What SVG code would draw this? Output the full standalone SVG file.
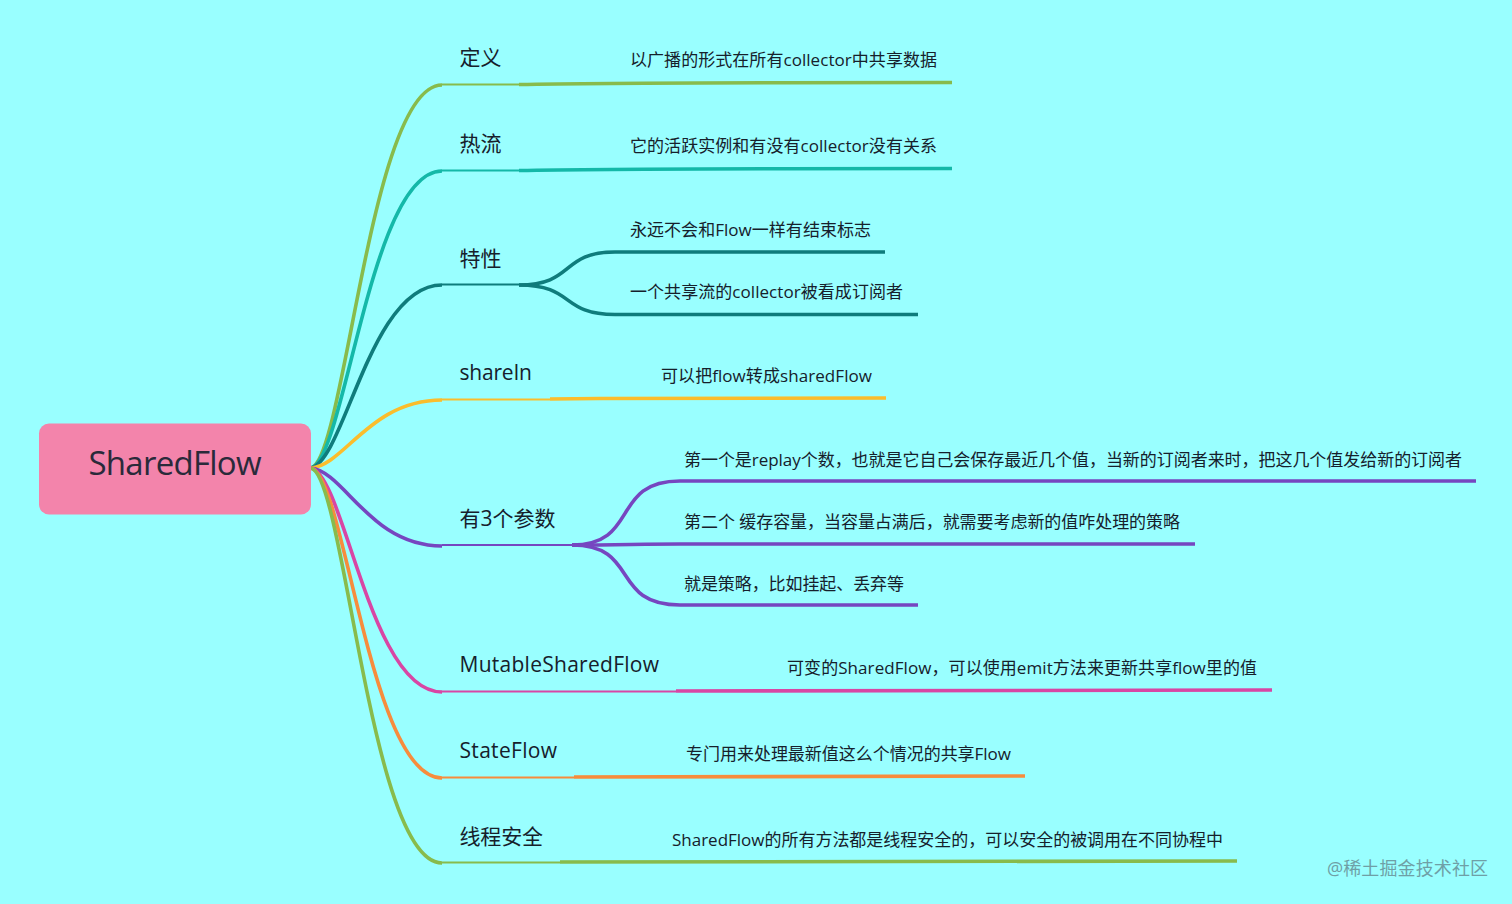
<svg xmlns="http://www.w3.org/2000/svg" width="1512" height="904" viewBox="0 0 1512 904">
<style>
text{font-family:"Open Sans","Noto Sans CJK SC","Noto Sans",sans-serif;fill:#16202b}
.t{font-size:21px}.s{font-size:17px}
.c{fill:none;stroke-linecap:butt}
.a{stroke-width:3.6}.b{stroke-width:2.2}.d{stroke-width:3.6}
.g{stroke:#88bb4c}.e{stroke:#14b8a8}.k{stroke:#0f7c7c}.y{stroke:#fbbd2c}.p{stroke:#7646c0}.m{stroke:#d846a4}.o{stroke:#f78c3c}
</style>
<rect width="1512" height="904" fill="#99ffff"/>
<g id="connectors">
<path class="c a g" d="M311 468C345 460 370 85 442 85"/><path class="c b g" d="M442 84.500H519"/><path class="c d g" d="M519 84.500C610 82.500 700 82.500 952 82.500"/>
<path class="c a e" d="M311 468C345 460 370 171 442 171"/><path class="c b e" d="M442 170.500H519"/><path class="c d e" d="M519 170.500C610 168.500 700 168.500 952 168.500"/>
<path class="c a k" d="M311 468C345 460 370 285 442 285"/><path class="c b k" d="M442 284.500H519"/>
<path class="c d k" d="M519 285C575 285 560 252 615 252H885"/><path class="c d k" d="M519 285C575 285 560 314.500 615 314.500H918"/>
<path class="c a y" d="M311 468C345 465 370 400 442 400"/><path class="c b y" d="M442 399.500H550"/><path class="c d y" d="M550 399C640 398 700 398 886 398"/>
<path class="c a p" d="M311 468C345 472 370 546 442 546"/><path class="c b p" d="M442 545H572"/>
<path class="c d p" d="M572 545C640 545 610 481 680 481H1476"/><path class="c d p" d="M572 545C620 545 640 544 680 544H1195"/><path class="c d p" d="M572 545C640 545 610 605 680 605H918"/>
<path class="c a m" d="M311 468C345 476 370 692 442 692"/><path class="c b m" d="M442 691.500H676"/><path class="c d m" d="M676 691C760 690 850 690 1272 690"/>
<path class="c a o" d="M311 468C345 476 370 778 442 778"/><path class="c b o" d="M442 777.500H574"/><path class="c d o" d="M574 777C660 776 750 776 1025 776"/>
<path class="c a g" d="M311 468C345 476 370 863 442 863"/><path class="c b g" d="M442 862.500H560"/><path class="c d g" d="M560 862C650 861 750 861 1237 861"/>
</g>
<g id="root"><rect x="39" y="423.500" width="272" height="91" rx="10" fill="#f384ab"/><text x="175" y="475" text-anchor="middle" style="font-size:33px;fill:#2a2a3a" textLength="173">SharedFlow</text></g>
<g id="n1"><text class="t" x="459.500" y="65">定义</text><text class="s" x="630" y="66" textLength="307">以广播的形式在所有collector中共享数据</text></g>
<g id="n2"><text class="t" x="459.500" y="151">热流</text><text class="s" x="630" y="152" textLength="307">它的活跃实例和有没有collector没有关系</text></g>
<g id="n3"><text class="t" x="459.500" y="266">特性</text><text class="s" x="630" y="236" textLength="241">永远不会和Flow一样有结束标志</text><text class="s" x="630" y="298" textLength="273">一个共享流的collector被看成订阅者</text></g>
<g id="n4"><text class="t" x="459.500" y="380" textLength="72.500">shareIn</text><text class="s" x="661" y="382" textLength="211">可以把flow转成sharedFlow</text></g>
<g id="n5"><text class="t" x="459.500" y="526" textLength="96">有3个参数</text><text class="s" x="684" y="466" textLength="778">第一个是replay个数，也就是它自己会保存最近几个值，当新的订阅者来时，把这几个值发给新的订阅者</text><text class="s" x="684" y="528" textLength="496">第二个 缓存容量，当容量占满后，就需要考虑新的值咋处理的策略</text><text class="s" x="684" y="590" textLength="220">就是策略，比如挂起、丢弃等</text></g>
<g id="n6"><text class="t" x="459.500" y="672" textLength="199.500">MutableSharedFlow</text><text class="s" x="787" y="674" textLength="470">可变的SharedFlow，可以使用emit方法来更新共享flow里的值</text></g>
<g id="n7"><text class="t" x="459.500" y="758" textLength="97.500">StateFlow</text><text class="s" x="686" y="760" textLength="325">专门用来处理最新值这么个情况的共享Flow</text></g>
<g id="n8"><text class="t" x="459.500" y="844" textLength="83.500">线程安全</text><text class="s" x="672" y="846" textLength="551">SharedFlow的所有方法都是线程安全的，可以安全的被调用在不同协程中</text></g>
<text x="1327" y="875" textLength="161" style="font-size:18px;fill:#6f9fa6">@稀土掘金技术社区</text>
</svg>
